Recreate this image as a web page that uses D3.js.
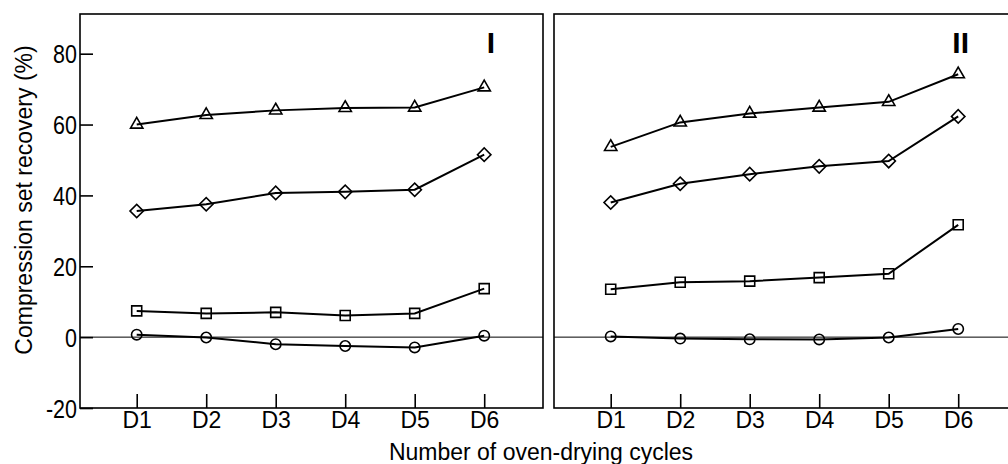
<!DOCTYPE html>
<html>
<head>
<meta charset="utf-8">
<script src="https://cdn.jsdelivr.net/npm/d3@7"></script>
<style>
  html, body { margin: 0; padding: 0; background: #fff; }
  svg { display: block; }
  text { font-family: Arial, "Liberation Sans", sans-serif; fill: #000; }
</style>
</head>
<body>
<svg id="chart" width="1008" height="464"></svg>
<script>
// ---- data ----
const categories = ["D1", "D2", "D3", "D4", "D5", "D6"];
const yTickValues = [-20, 0, 20, 40, 60, 80];
const panelLabels = ["I", "II"];
const xTitle = "Number of oven-drying cycles";
const yTitle = "Compression set recovery (%)";

// Panel I
const triangleI = [60.0, 62.7, 64.0, 64.7, 64.8, 70.5];
const diamondI  = [35.6, 37.5, 40.7, 41.0, 41.6, 51.5];
const squareI   = [7.4, 6.7, 7.0, 6.1, 6.7, 13.7];
const circleI   = [0.7, -0.1, -2.0, -2.5, -2.9, 0.4];

// Panel II
const triangleII = [53.7, 60.6, 63.1, 64.8, 66.4, 74.2];
const diamondII  = [38.0, 43.3, 46.0, 48.2, 49.7, 62.3];
const squareII   = [13.5, 15.5, 15.8, 16.8, 17.9, 31.7];
const circleII   = [0.2, -0.4, -0.6, -0.65, -0.1, 2.3];

const panels = [
  { label: panelLabels[0], left: 80, series: [
      { shape: "triangle", values: triangleI },
      { shape: "diamond",  values: diamondI },
      { shape: "square",   values: squareI },
      { shape: "circle",   values: circleI } ] },
  { label: panelLabels[1], left: 554, series: [
      { shape: "triangle", values: triangleII },
      { shape: "diamond",  values: diamondII },
      { shape: "square",   values: squareII },
      { shape: "circle",   values: circleII } ] }
];

// ---- layout ----
const plotTop = 14, plotBottom = 408, panelW = 463;
const svg = d3.select("#chart");

const x = d3.scaleLinear().domain([0.184, 6.846]).range([0, panelW]);
const y = d3.scaleLinear().domain([-20, 91.2]).range([plotBottom, plotTop]);

const symbolFor = {
  triangle: d3.symbol().type(d3.symbolTriangle).size(66),
  diamond:  d3.symbol().type(d3.symbolSquare).size(90),
  square:   d3.symbol().type(d3.symbolSquare).size(100),
  circle:   d3.symbol().type(d3.symbolCircle).size(85)
};

panels.forEach((p, pi) => {
  const g = svg.append("g").attr("transform", `translate(${p.left},0)`);

  // frame
  g.append("rect")
    .attr("x", 0).attr("y", plotTop)
    .attr("width", panelW).attr("height", plotBottom - plotTop)
    .attr("fill", "none").attr("stroke", "#000").attr("stroke-width", 1.6);

  // zero line
  g.append("line")
    .attr("x1", 0).attr("x2", panelW)
    .attr("y1", y(0)).attr("y2", y(0))
    .attr("stroke", "#000").attr("stroke-width", 1);

  // x axis (inward ticks)
  const xa = g.append("g").attr("transform", `translate(0,${plotBottom})`)
    .call(d3.axisBottom(x).tickValues(d3.range(1, categories.length + 1))
      .tickFormat(i => categories[i - 1]).tickSizeInner(-14).tickSizeOuter(0).tickPadding(0));
  xa.select(".domain").remove();
  xa.selectAll(".tick line").attr("stroke", "#000").attr("stroke-width", 1.6);
  xa.selectAll(".tick text")
    .attr("y", 20).attr("dy", 0)
    .style("font-size", "23px");

  // y axis only on the first panel
  if (pi === 0) {
    const ya = g.append("g")
      .call(d3.axisLeft(y).tickValues(yTickValues).tickFormat(v => String(v))
        .tickSizeInner(-13).tickSizeOuter(0).tickPadding(0));
    ya.select(".domain").remove();
    ya.selectAll(".tick line").attr("stroke", "#000").attr("stroke-width", 1.6);
    ya.selectAll(".tick text")
      .attr("x", 0).attr("dy", "0.36em")
      .attr("transform", "translate(-3,0) scale(0.86,1)")
      .style("font-size", "25px");
  }

  // series
  const line = d3.line().x((d, i) => x(i + 1)).y(d => y(d));
  p.series.forEach(s => {
    g.append("path").datum(s.values)
      .attr("d", line)
      .attr("fill", "none").attr("stroke", "#000").attr("stroke-width", 2);
    g.selectAll(null).data(s.values).enter().append("path")
      .attr("d", symbolFor[s.shape])
      .attr("transform", (d, i) => `translate(${x(i + 1)},${y(d)})` + (s.shape === "diamond" ? " rotate(45)" : ""))
      .attr("fill", "none").attr("stroke", "#000").attr("stroke-width", 1.6);
  });
});

// panel labels
svg.selectAll(".plabel").data(panels).enter().append("text")
  .attr("class", "plabel")
  .attr("x", (d, i) => i === 0 ? 495 : 969)
  .attr("y", 53)
  .attr("text-anchor", "end")
  .style("font-size", "30px").style("font-weight", "bold")
  .text(d => d.label);

// axis titles
svg.append("text")
  .attr("x", 541).attr("y", 460)
  .attr("text-anchor", "middle")
  .style("font-size", "23px")
  .text(xTitle);

svg.append("text")
  .attr("transform", "translate(32,200) rotate(-90)")
  .attr("text-anchor", "middle")
  .style("font-size", "23px")
  .text(yTitle);
</script>
</body>
</html>
